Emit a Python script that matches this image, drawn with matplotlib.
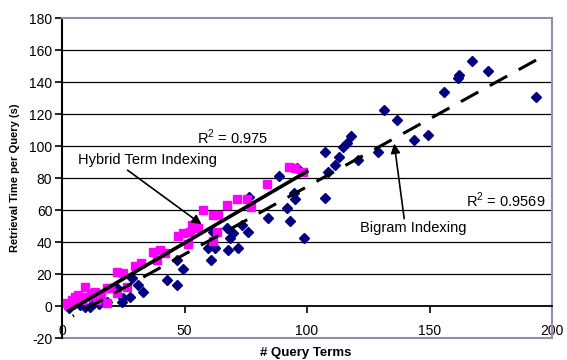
import numpy as np
import matplotlib
matplotlib.use('Agg')
import matplotlib.pyplot as plt

plt.rcParams['font.family'] = ['Liberation Sans', 'DejaVu Sans']
plt.rcParams['axes.unicode_minus'] = False
plt.rcParams['mathtext.fontset'] = 'custom'
plt.rcParams['mathtext.rm'] = 'Liberation Sans'

# Hybrid Term Indexing (magenta squares)
hybrid_x = [1.9, 2.6, 4.0, 5.3, 6.7, 8.0, 9.4, 10.1, 12.0, 13.5, 14.1, 16.0, 18.2, 18.2,
            19.6, 22.3, 22.6, 25.0, 26.4, 29.8, 32.2, 37.3, 38.6, 40.0, 42.0, 47.5, 49.5,
            51.6, 52.2, 52.9, 55.6, 57.5, 61.8, 61.8, 63.1, 63.8, 67.2, 71.5, 75.4, 77.1,
            83.5, 92.8, 95.1, 98.3]
hybrid_y = [1.7, 0.6, 3.5, 5.8, 6.9, 4.0, 11.6, 5.8, 8.0, 9.0, 3.8, 6.5, 11.0, 2.0,
            11.0, 7.9, 21.5, 20.4, 11.6, 24.8, 26.8, 34.0, 28.8, 35.0, 33.0, 43.8, 45.4,
            39.0, 46.4, 50.6, 49.0, 60.2, 56.9, 40.8, 46.4, 56.9, 63.1, 66.7, 66.7, 61.7,
            76.5, 86.7, 86.0, 83.8]

# Bigram Indexing (navy diamonds)
bigram_x = [3.0, 5.0, 7.3, 9.4, 11.4, 13.0, 15.0, 18.2, 22.3, 24.4, 25.0, 27.8, 28.4,
            31.1, 33.2, 42.7, 46.8, 46.8, 49.3, 59.7, 60.8, 61.8, 62.4, 67.2, 67.9, 68.6,
            69.9, 72.0, 73.3, 76.0, 76.5, 84.2, 88.7, 91.7, 93.1, 94.7, 95.1, 95.8, 98.8,
            107.3, 107.3, 108.7, 111.4, 113.2, 114.8, 116.2, 118.0, 121.0, 128.9, 131.4,
            136.6, 143.7, 149.4, 155.9, 161.6, 162.0, 167.3, 173.8, 193.5]
bigram_y = [-1.0, 1.0, 0.6, -0.4, -0.4, 2.0, 1.0, 2.7, 11.0, 2.7, 4.8, 5.8, 17.3,
            13.1, 9.0, 16.3, 13.1, 28.8, 22.9, 36.0, 28.8, 46.4, 36.0, 48.5, 35.0, 42.3,
            45.4, 36.0, 50.6, 46.4, 68.0, 54.8, 81.0, 61.0, 53.3, 70.4, 66.7, 86.0, 42.3,
            96.3, 67.3, 84.0, 88.0, 93.0, 99.6, 102.0, 106.0, 91.0, 96.0, 122.5,
            116.0, 103.5, 106.9, 133.5, 142.3, 144.5, 153.3, 147.0, 130.8]

# linear trendlines: [slope, intercept], x range
hybrid_fit = [0.895, -5.4]
hybrid_fit_x = [3.3, 99.9]
bigram_fit = [0.846, -10.0]
bigram_fit_x = [193.5, 4.4]  # drawn from the top end so the last dash is whole

x_ticks = [0, 50, 100, 150, 200]
y_ticks = list(range(-20, 181, 20))

border = '#9c8aa8'

fig = plt.figure(figsize=(5.67, 3.6), dpi=100)
ax = fig.add_axes([62 / 567, 1 - 338 / 360, 490 / 567, 320 / 360])

# horizontal gridlines
for yv in y_ticks:
    if 0 < yv < 180:
        ax.axhline(yv, color='black', lw=0.9, zorder=1)
ax.axhline(-20, color=border, lw=1.5, zorder=1, clip_on=False)

ax.plot(bigram_x, bigram_y, linestyle='none', marker='D', markersize=4.8,
        color='#000080', zorder=3)
ax.plot(hybrid_x, hybrid_y, linestyle='none', marker='s', markersize=5.8,
        color='#ff00ff', zorder=3)

hx = np.array(hybrid_fit_x)
ax.plot(hx, np.polyval(hybrid_fit, hx), color='black', lw=2.6, zorder=4)
bx = np.array(bigram_fit_x)
ax.plot(bx, np.polyval(bigram_fit, bx), color='black', lw=2.2, linestyle=(0, (6.5, 4.3)),
        dash_capstyle='butt', zorder=4)

ax.set_xlim(0, 200)
ax.set_ylim(-20, 180)
ax.set_xticks(x_ticks)
ax.set_yticks(y_ticks)
ax.spines['bottom'].set_position(('data', 0))
ax.spines['bottom'].set_linewidth(1.3)
ax.spines['left'].set_linewidth(1.5)
ax.spines['top'].set_color(border)
ax.spines['right'].set_color(border)
ax.spines['top'].set_linewidth(1.5)
ax.spines['right'].set_linewidth(1.5)
ax.tick_params(axis='y', direction='out', length=5, width=1.2, pad=2, labelsize=10)
ax.tick_params(axis='x', direction='out', length=5, width=1.2, pad=8, labelsize=10)

ax.text(55, 105.5, r'R$^{2}$ = 0.975', fontsize=10.5, va='center', ha='left')
ax.text(197.5, 66, r'R$^{2}$ = 0.9569', fontsize=10.5, va='center', ha='right')
ax.annotate('Hybrid Term Indexing', xy=(57, 51), xytext=(6.5, 91),
            fontsize=10.5, va='center', ha='left',
            arrowprops=dict(arrowstyle='-|>', color='black', lw=1.2,
                            mutation_scale=14, shrinkA=0, shrinkB=0,
                            relpos=(0.33, 0.0)))
ax.annotate('Bigram Indexing', xy=(135.6, 101.5), xytext=(143.3, 48.5),
            fontsize=10.5, va='center', ha='center',
            arrowprops=dict(arrowstyle='-|>', color='black', lw=1.2,
                            mutation_scale=14, shrinkA=0, shrinkB=0,
                            relpos=(0.42, 1.0)))

fig.text(15 / 567, 1 - 178 / 360, 'Retrieval Time per Query (s)', rotation=90,
         fontsize=8, fontweight='bold', ha='center', va='center')
fig.text(306 / 567, 1 - 347 / 360, '# Query Terms', fontsize=9.5,
         fontweight='bold', ha='center', va='top')

fig.savefig('out.png', dpi=100)
